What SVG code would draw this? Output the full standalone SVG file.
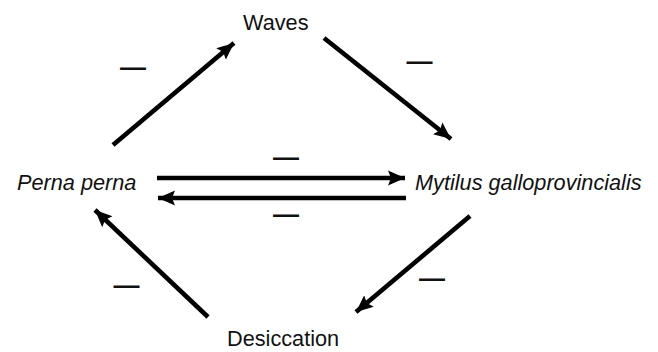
<svg xmlns="http://www.w3.org/2000/svg" width="658" height="352" viewBox="0 0 658 352">
<style>
.lbl{font-family:"Liberation Sans",Arial,sans-serif;font-size:21.7px;fill:#111}
.it{font-style:italic}
.sign{font-family:"Liberation Sans",Arial,sans-serif;font-size:26px;font-weight:bold;fill:#111;text-anchor:middle}
.edge{stroke:#000;stroke-width:4.6;fill:none;marker-end:url(#ah)}
</style>
<defs>
<marker id="ah" markerUnits="userSpaceOnUse" markerWidth="20" markerHeight="18" viewBox="0 -9 20 18" refX="17" refY="0" orient="auto">
<path d="M0,-7.5 L17,0 L0,7.5 L3,0 Z" fill="#000"/>
</marker>
</defs>
<rect width="658" height="352" fill="#fff"/>
<g id="waves"><text class="lbl" x="243" y="30">Waves</text></g>
<g id="perna"><text class="lbl it" x="17" y="190">Perna perna</text></g>
<g id="mytilus"><text class="lbl it" x="415" y="190">Mytilus galloprovincialis</text></g>
<g id="desiccation"><text class="lbl" x="227" y="346">Desiccation</text></g>
<g id="connectors">
<line class="edge" x1="113" y1="145" x2="234" y2="43"/>
<line class="edge" x1="324" y1="38" x2="451" y2="139"/>
<line class="edge" x1="157" y1="178" x2="405" y2="178"/>
<line class="edge" x1="406" y1="198" x2="158" y2="198"/>
<line class="edge" x1="470" y1="216" x2="356" y2="312"/>
<line class="edge" x1="208" y1="317" x2="95" y2="210"/>
</g>
<g id="labels">
<text class="sign" x="133" y="76">—</text>
<text class="sign" x="419.5" y="70">—</text>
<text class="sign" x="286" y="166">—</text>
<text class="sign" x="286" y="223">—</text>
<text class="sign" x="126.5" y="294">—</text>
<text class="sign" x="432" y="287">—</text>
</g>
</svg>
